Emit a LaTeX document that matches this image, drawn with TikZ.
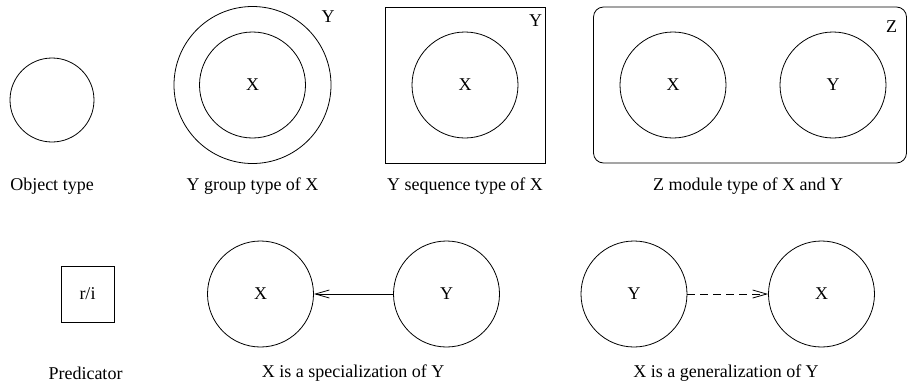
\documentclass[tikz,border=0pt]{standalone}
\usepackage{fontspec}
\setmainfont{Liberation Serif}
\usetikzlibrary{arrows.meta}
\begin{document}
\begin{tikzpicture}[x=1pt,y=-1pt,
  ln/.style={line width=0.8pt},
  obj/.style={circle,draw,ln,inner sep=0pt,minimum size=106pt,font=\fontsize{18}{20}\selectfont},
  txt/.style={inner sep=0pt,font=\fontsize{18}{20}\selectfont},
  barb/.style={-{Straight Barb[length=14pt,width=8pt]}}
]
\useasboundingbox (0,0) rectangle (908,389);
% object type
\node[obj,minimum size=84pt] (ot) at (52,100) {};
\node[txt] (otl) at (52,186) {Object type};
% group type
\node[obj,minimum size=157pt] (gy) at (252.5,85) {};
\node[obj] (gx) at (252.5,85) {X};
\node[txt] (gyl) at (328,17) {Y};
\node[txt] (gl) at (252.5,186) {Y group type of X};
% sequence type
\node[draw,ln,minimum width=160pt,minimum height=156pt,inner sep=0pt] (sb) at (465.5,85) {};
\node[obj] (sx) at (465,85) {X};
\node[txt] (sy) at (535.5,21) {Y};
\node[txt] (sl) at (465,186) {Y sequence type of X};
% module type
\node[draw,ln,rounded corners=10pt,minimum width=313pt,minimum height=156pt,inner sep=0pt] (mb) at (750,85) {};
\node[obj] (mx) at (673,85) {X};
\node[obj] (my) at (833,85) {Y};
\node[txt] (mz) at (891.7,27) {Z};
\node[txt] (ml) at (748,186) {Z module type of X and Y};
% predicator
\node[draw,ln,minimum width=53pt,minimum height=56pt,inner sep=0pt,font=\fontsize{18}{20}\selectfont] (pr) at (87.5,294) {r/i};
\node[txt] (pl) at (85.5,373) {Predicator};
% specialization
\node[obj] (sx2) at (260.5,294) {X};
\node[obj] (sy2) at (446.5,294) {Y};
\draw[ln,barb] (sy2) -- (sx2);
\node[txt] (spl) at (353,373) {X is a specialization of Y};
% generalization
\node[obj] (gy2) at (634,294) {Y};
\node[obj] (gx2) at (821.5,294) {X};
\draw[ln,barb,dash pattern=on 8pt off 5pt] (gy2) -- (gx2);
\node[txt] (gpl) at (726,373) {X is a generalization of Y};
\end{tikzpicture}
\end{document}
